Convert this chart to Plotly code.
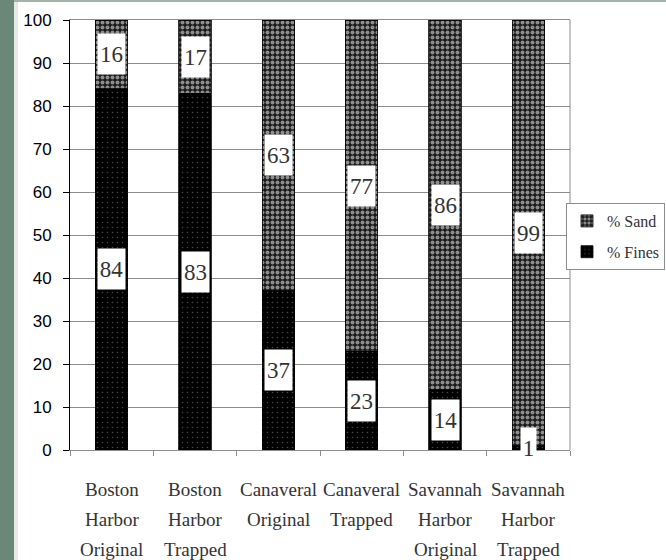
import plotly.graph_objects as go

# Sediment composition of original vs. trapped samples (percent)
categories = [
    "Boston Harbor Original",
    "Boston Harbor Trapped",
    "Canaveral Original",
    "Canaveral Trapped",
    "Savannah Harbor Original",
    "Savannah Harbor Trapped",
]
pct_fines = [84, 83, 37, 23, 14, 1]
pct_sand = [16, 17, 63, 77, 86, 99]
y_ticks = list(range(0, 101, 10))

W, H = 666, 560
ML, MR, MT, MB = 70, 96, 20, 110
PW, PH = W - ML - MR, H - MT - MB


def px_x(p):
    """Page pixel column -> paper x."""
    return (p - ML) / PW


def px_y(q):
    """Page pixel row -> paper y."""
    return (H - MB - q) / PH


SERIF = "Liberation Serif"
SANS = "Liberation Sans"
GRID = "#8c8c8c"

fig = go.Figure()

fig.add_trace(go.Bar(
    x=categories, y=pct_fines, name="% Fines",
    legendgroup="fines", legendrank=2,
    width=0.39,
    marker=dict(
        color="black",
        line=dict(color="black", width=0.8),
        pattern=dict(shape=".", bgcolor="black", fgcolor="#8a8a8a",
                     size=5, solidity=0.08),
    ),
    hoverinfo="skip",
))
fig.add_trace(go.Bar(
    x=categories, y=pct_sand, name="% Sand",
    legendgroup="sand", legendrank=1,
    width=0.39,
    marker=dict(
        color="#1a1a1a",
        line=dict(color="black", width=0.8),
        pattern=dict(shape=".", bgcolor="#1a1a1a", fgcolor="white",
                     size=5, solidity=0.5),
    ),
    hoverinfo="skip",
))

annotations = []

# value labels in white boxes, centred on each stacked segment
for cat, f, s in zip(categories, pct_fines, pct_sand):
    for val, mid in ((f, f / 2), (s, f + s / 2)):
        txt = str(val)
        annotations.append(dict(
            x=cat, y=mid, xref="x", yref="y", text=txt, showarrow=False,
            bgcolor="white", width=12 * len(txt) + 1, height=38,
            font=dict(family=SERIF, size=23, color="#333333"),
        ))

# category labels, one word per line with wide line spacing
for cat in categories:
    for i, word in enumerate(cat.split(" ")):
        annotations.append(dict(
            x=cat, y=0, xref="x", yref="paper", text=word, showarrow=False,
            yanchor="middle", yshift=-39 - 30 * i,
            font=dict(family=SERIF, size=19, color="#333333"),
        ))

shapes = [
    # right border of the plot area
    dict(type="line", xref="paper", yref="paper", x0=1, x1=1, y0=0, y1=1,
         line=dict(color=GRID, width=1)),
    # page frame: dark strip on the left, thin strip along the top
    dict(type="rect", xref="paper", yref="paper", layer="below",
         x0=px_x(0), x1=px_x(14), y0=px_y(H), y1=px_y(0),
         fillcolor="#6b8776", line=dict(width=0)),
    dict(type="rect", xref="paper", yref="paper", layer="below",
         x0=px_x(14), x1=px_x(18), y0=px_y(H), y1=px_y(2),
         fillcolor="#e4ebe6", line=dict(width=0)),
    dict(type="rect", xref="paper", yref="paper", layer="below",
         x0=px_x(14), x1=px_x(W), y0=px_y(2), y1=px_y(0),
         fillcolor="#a3b3a8", line=dict(width=0)),
]

fig.update_layout(
    width=W, height=H,
    margin=dict(l=ML, r=MR, t=MT, b=MB, autoexpand=False),
    barmode="stack",
    paper_bgcolor="white", plot_bgcolor="white",
    showlegend=True,
    legend=dict(
        x=px_x(665), xanchor="right", y=px_y(203), yanchor="top",
        bgcolor="white", bordercolor=GRID, borderwidth=1,
        font=dict(family=SERIF, size=16, color="#333333"),
        itemwidth=30, traceorder="grouped", tracegroupgap=7,
    ),
    xaxis=dict(
        type="category", range=[-0.5, len(categories) - 0.5],
        showticklabels=False, ticks="outside", tickson="boundaries",
        ticklen=5, tickcolor=GRID, showline=True, linecolor=GRID,
        linewidth=1, mirror=True, showgrid=False, fixedrange=True,
    ),
    yaxis=dict(
        range=[0, 100], tickvals=y_ticks, ticks="outside", ticklen=6,
        tickcolor="black", showline=True, linecolor="black", linewidth=1,
        showgrid=True, gridcolor=GRID, gridwidth=1, zeroline=False,
        ticklabelstandoff=8,
        tickfont=dict(family=SANS, size=17, color="#000000"),
        fixedrange=True,
    ),
    annotations=annotations,
    shapes=shapes,
)

fig.write_html("out.html")
